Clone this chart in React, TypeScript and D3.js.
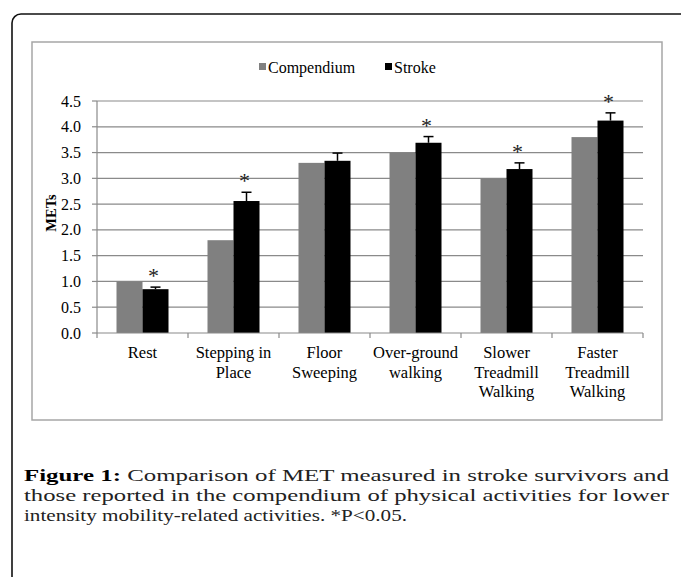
import React from "react";
import * as d3 from "d3";

const categories = [
  "Rest",
  "Stepping in Place",
  "Floor Sweeping",
  "Over-ground walking",
  "Slower Treadmill Walking",
  "Faster Treadmill Walking",
];
const categoryLines = [
  ["Rest"],
  ["Stepping in", "Place"],
  ["Floor", "Sweeping"],
  ["Over-ground", "walking"],
  ["Slower", "Treadmill", "Walking"],
  ["Faster", "Treadmill", "Walking"],
];
const compendium = [1.0, 1.8, 3.3, 3.5, 3.0, 3.8];
const stroke = [0.85, 2.56, 3.34, 3.69, 3.18, 4.12];
const strokeErr = [0.04, 0.17, 0.15, 0.12, 0.12, 0.15];
const significant = [true, true, false, true, true, true];
const yTicks = [0, 0.5, 1, 1.5, 2, 2.5, 3, 3.5, 4, 4.5];
const seriesNames = ["Compendium", "Stroke"];
const seriesColors = ["#808080", "#000000"];

const captionLines = [
  "Comparison of MET measured in stroke survivors and",
  "those reported in the compendium of physical activities for lower",
  "intensity mobility-related activities. *P<0.05.",
];

const W = 681;
const H = 577;
const serif = "'Liberation Serif', 'Times New Roman', serif";

const App = () => {
  const plot = { left: 97, right: 643, top: 101, bottom: 333 };

  const x = d3.scaleBand<string>()
    .domain(categories)
    .range([plot.left, plot.right])
    .padding(0);

  // two bars per category, 26px each, centred in the band
  const xInner = d3.scaleBand<string>()
    .domain(seriesNames)
    .range([0, x.bandwidth()])
    .paddingInner(0)
    .paddingOuter(0.75);

  const y = d3.scaleLinear()
    .domain([0, 4.5])
    .range([plot.bottom, plot.top]);

  const gridColor = "#8a8a8a";
  const values = [compendium, stroke];

  return (
    <svg
      width={W}
      height={H}
      style={{ position: "fixed", left: 0, top: 0, background: "#fff" }}
    >
      {/* outer frame */}
      <rect x={12} y={14} width={720} height={620} rx={9} fill="none" stroke="#111" strokeWidth={1.6} />

      {/* chart area */}
      <rect x={32} y={42} width={630} height={378} fill="#fff" stroke="#a6a6a6" strokeWidth={1.5} />

      {/* legend */}
      {seriesNames.map((name, i) => {
        const lx = i === 0 ? 259 : 385;
        return (
          <g key={name}>
            <rect x={lx} y={63} width={7} height={7} fill={seriesColors[i]} />
            <text x={lx + 9} y={73} fontFamily={serif} fontSize={16} fill="#000">{name}</text>
          </g>
        );
      })}

      {/* gridlines */}
      {yTicks.filter(t => t > 0).map(t => (
        <line key={t} x1={plot.left} x2={plot.right} y1={y(t)} y2={y(t)} stroke={gridColor} strokeWidth={1.2} />
      ))}

      {/* y axis */}
      <line x1={plot.left} x2={plot.left} y1={y(4.5)} y2={y(0)} stroke={gridColor} strokeWidth={1.2} />
      {yTicks.map(t => (
        <g key={"yt" + t}>
          <line x1={plot.left - 5} x2={plot.left} y1={y(t)} y2={y(t)} stroke={gridColor} strokeWidth={1.2} />
          <text x={plot.left - 16} y={y(t)} dy="0.35em" textAnchor="end" fontFamily={serif} fontSize={16} fill="#000">
            {t.toFixed(1)}
          </text>
        </g>
      ))}
      <text
        transform={`translate(56,${(y(0) + y(4.5)) / 2 - 4}) rotate(-90)`}
        textAnchor="middle"
        fontFamily={serif}
        fontSize={14.5}
        fontWeight="bold"
        fill="#000"
      >
        METs
      </text>

      {/* bars */}
      {categories.map((c, ci) => (
        <g key={c}>
          {seriesNames.map((s, si) => (
            <rect
              key={s}
              x={(x(c) ?? 0) + (xInner(s) ?? 0)}
              y={y(values[si][ci])}
              width={xInner.bandwidth()}
              height={y(0) - y(values[si][ci])}
              fill={seriesColors[si]}
            />
          ))}
        </g>
      ))}

      {/* error bars and significance marks */}
      {categories.map((c, ci) => {
        const cx = (x(c) ?? 0) + (xInner("Stroke") ?? 0) + xInner.bandwidth() / 2;
        const top = y(stroke[ci] + strokeErr[ci]);
        return (
          <g key={"e" + c}>
            <line x1={cx} x2={cx} y1={y(stroke[ci])} y2={top} stroke="#000" strokeWidth={1.5} />
            <line x1={cx - 5} x2={cx + 5} y1={top} y2={top} stroke="#000" strokeWidth={1.5} />
            {significant[ci] && (
              <text x={cx - 2} y={top - 4} textAnchor="middle" fontFamily={serif} fontSize={22} fill="#222">*</text>
            )}
          </g>
        );
      })}

      {/* x axis */}
      <line x1={plot.left} x2={plot.right} y1={y(0)} y2={y(0)} stroke={gridColor} strokeWidth={1.2} />
      {[...categories.map(c => x(c) ?? 0), plot.right].map((tx, i) => (
        <line key={"xt" + i} x1={tx} x2={tx} y1={y(0)} y2={y(0) + 5} stroke={gridColor} strokeWidth={1.2} />
      ))}
      {categories.map((c, ci) => (
        <text
          key={"xl" + c}
          x={(x(c) ?? 0) + x.bandwidth() / 2}
          y={358}
          textAnchor="middle"
          fontFamily={serif}
          fontSize={16.5}
          fill="#000"
        >
          {categoryLines[ci].map((ln, li) => (
            <tspan key={li} x={(x(c) ?? 0) + x.bandwidth() / 2} dy={li === 0 ? 0 : 19.5}>{ln}</tspan>
          ))}
        </text>
      ))}

      {/* caption */}
      {captionLines.map((ln, i) => (
        <text
          key={"cap" + i}
          x={24}
          y={481 + i * 20}
          fontFamily={serif}
          fontSize={17.5}
          fill="#222"
          textLength={i < 2 ? 645 : 383}
          lengthAdjust="spacingAndGlyphs"
        >
          {i === 0 && <tspan fontWeight="bold" fill="#000">Figure 1: </tspan>}
          {ln}
        </text>
      ))}
    </svg>
  );
};

export default App;
